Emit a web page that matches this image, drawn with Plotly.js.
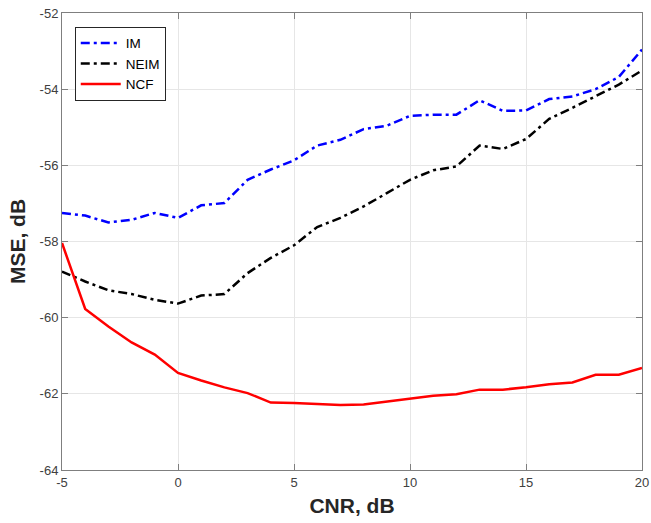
<!DOCTYPE html>
<html><head><meta charset="utf-8">
<script src="https://cdn.plot.ly/plotly-3.0.1.min.js"></script>
<style>body{margin:0;padding:0;background:#fff}#chart{width:651px;height:523px}</style>
</head><body><div id="chart"></div>
<script>
const cnr = [-5,-4,-3,-2,-1,0,1,2,3,4,5,6,7,8,9,10,11,12,13,14,15,16,17,18,19,20];
const imMse = [-57.25,-57.32,-57.50,-57.43,-57.25,-57.38,-57.05,-56.99,-56.38,-56.11,-55.87,-55.48,-55.33,-55.05,-54.96,-54.70,-54.67,-54.67,-54.29,-54.57,-54.56,-54.26,-54.19,-54.00,-53.68,-52.96];
const neimMse = [-58.79,-59.05,-59.28,-59.38,-59.53,-59.63,-59.42,-59.38,-58.83,-58.43,-58.10,-57.62,-57.38,-57.08,-56.73,-56.38,-56.13,-56.03,-55.48,-55.57,-55.31,-54.78,-54.49,-54.19,-53.88,-53.51];
const ncfMse = [-58.04,-59.77,-60.23,-60.65,-60.97,-61.45,-61.65,-61.83,-61.98,-62.23,-62.24,-62.26,-62.29,-62.28,-62.20,-62.13,-62.05,-62.01,-61.89,-61.89,-61.83,-61.75,-61.70,-61.50,-61.50,-61.32];
const xTicks = [-5,0,5,10,15,20];
const yTicks = [-64,-62,-60,-58,-56,-54,-52];

const traces = [
  {x: cnr, y: imMse, name: 'IM', mode: 'lines', line: {color: '#0000ff', width: 2.5, dash: '9px,4px,3px,4px'}},
  {x: cnr, y: neimMse, name: 'NEIM', mode: 'lines', line: {color: '#000000', width: 2.5, dash: '9px,4px,3px,4px'}},
  {x: cnr, y: ncfMse, name: 'NCF', mode: 'lines', line: {color: '#ff0000', width: 2.5}}
];
const axisCommon = {
  showline: true, linecolor: '#7f7f7f', linewidth: 1, mirror: 'ticks',
  ticks: 'inside', ticklen: 6, tickcolor: '#7f7f7f', tickwidth: 1,
  showgrid: true, gridcolor: '#e6e6e6', gridwidth: 1, zeroline: false,
  tickfont: {family: 'Liberation Sans, Arial, sans-serif', size: 13, color: '#404040'}
};
const titleFont = {family: 'Liberation Sans, Arial, sans-serif', size: 21, color: '#262626', weight: 'bold'};
const layout = {
  width: 651, height: 523,
  margin: {l: 62, r: 9, t: 13, b: 53},
  paper_bgcolor: '#fff', plot_bgcolor: '#fff',
  showlegend: true,
  legend: {x: 0.022, y: 0.97, xanchor: 'left', yanchor: 'top', bgcolor: '#fff',
    bordercolor: '#262626', borderwidth: 1, itemwidth: 40, tracegroupgap: 0,
    entrywidth: 50, entrywidthmode: 'pixels',
    font: {family: 'Liberation Sans, Arial, sans-serif', size: 13.5, color: '#000'}},
  xaxis: Object.assign({}, axisCommon, {range: [-5, 20], tickvals: xTicks, ticktext: xTicks.map(String),
    title: {text: 'CNR, dB', standoff: 9, font: titleFont}}),
  yaxis: Object.assign({}, axisCommon, {range: [-64, -52], tickvals: yTicks, ticktext: yTicks.map(String),
    title: {text: 'MSE, dB', standoff: 8, font: titleFont}})
};
Plotly.newPlot('chart', traces, layout, {displayModeBar: false, staticPlot: true});
</script></body></html>
